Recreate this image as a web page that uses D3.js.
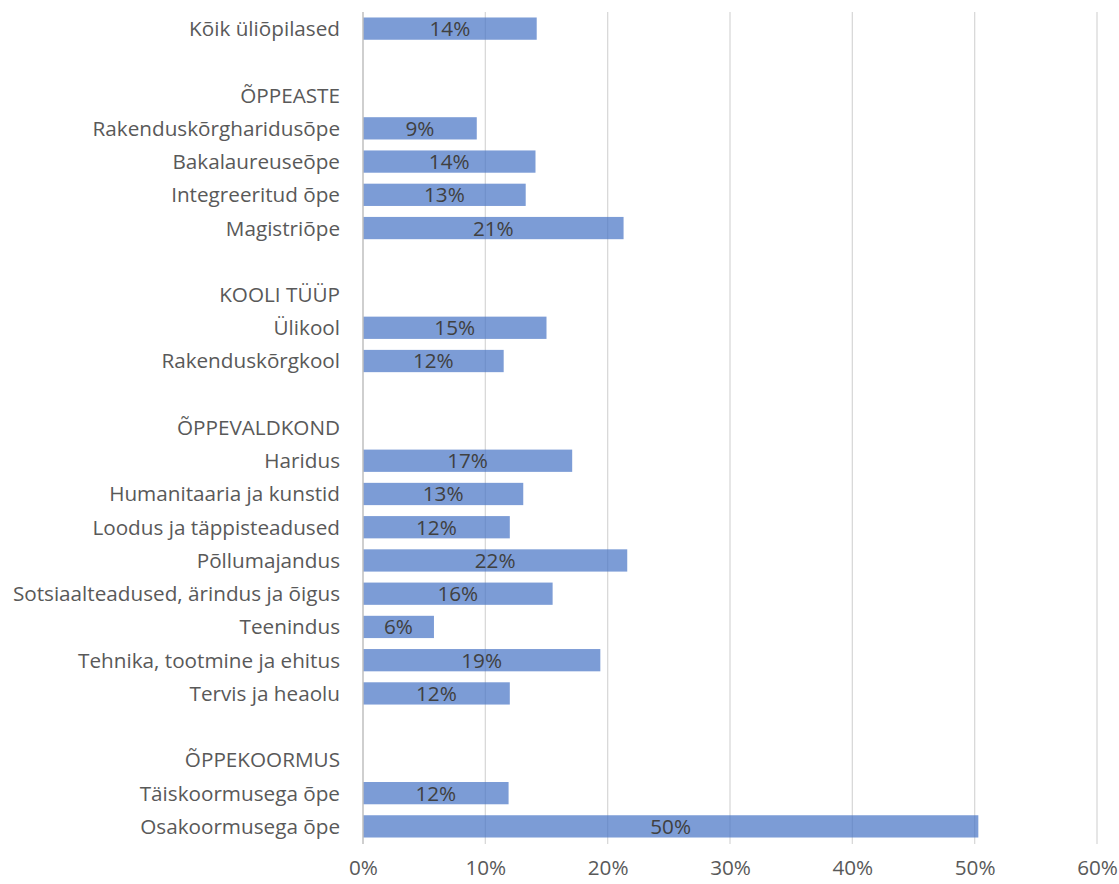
<!DOCTYPE html>
<html>
<head>
<meta charset="utf-8">
<script src="https://cdn.jsdelivr.net/npm/d3@7"></script>
<style>
  body { margin: 0; background: #fff; }
  svg text { font-family: "Open Sans", "Liberation Sans", sans-serif; }
</style>
</head>
<body>
<div id="chart"></div>
<script>
// rows top to bottom; null value = group header or spacer
var categories = [
    "Kõik üliõpilased", "", "ÕPPEASTE",
    "Rakenduskõrgharidusõpe", "Bakalaureuseõpe", "Integreeritud õpe", "Magistriõpe",
    " ", "KOOLI TÜÜP", "Ülikool", "Rakenduskõrgkool",
    "  ", "ÕPPEVALDKOND", "Haridus", "Humanitaaria ja kunstid", "Loodus ja täppisteadused",
    "Põllumajandus", "Sotsiaalteadused, ärindus ja õigus", "Teenindus",
    "Tehnika, tootmine ja ehitus", "Tervis ja heaolu",
    "   ", "ÕPPEKOORMUS", "Täiskoormusega õpe", "Osakoormusega õpe"
];
var values = [
    14.2, null, null,
    9.3, 14.1, 13.3, 21.3,
    null, null, 15.0, 11.5,
    null, null, 17.1, 13.1, 12.0,
    21.6, 15.5, 5.8,
    19.4, 12.0,
    null, null, 11.9, 50.3
];
var tickValues = [0, 10, 20, 30, 40, 50, 60];

var svgWidth = 1119;
var svgHeight = 884;
var margin = { top: 12, right: 22, bottom: 40, left: 363 };
var fontSize = 20.7;

var svg = d3.select("#chart").append("svg")
    .attr("width", svgWidth)
    .attr("height", svgHeight);

var chartGroup = svg.append("g")
    .attr("transform", `translate(${margin.left}, ${margin.top})`);

var rows = categories.map(function (c, i) { return { label: c, value: values[i] }; });

var xScale = d3.scaleLinear().domain([0, 60]).range([0, 734]);
var yScale = d3.scaleBand()
    .domain(categories)
    .range([0, 831])
    .paddingInner(0.33)
    .paddingOuter(0.165);

// gridlines
chartGroup.selectAll(".grid").data(tickValues.slice(1)).enter()
    .append("line")
    .attr("x1", d => xScale(d)).attr("x2", d => xScale(d))
    .attr("y1", 0).attr("y2", 832)
    .attr("stroke", "#d9d9d9").attr("stroke-width", 1.3);

// bars
var barRows = rows.filter(d => d.value !== null);
chartGroup.selectAll(".bar").data(barRows).enter()
    .append("rect")
    .attr("x", 0)
    .attr("y", d => yScale(d.label))
    .attr("width", d => xScale(d.value))
    .attr("height", yScale.bandwidth())
    .attr("fill", "#4472c4")
    .attr("fill-opacity", 0.7);

// value labels
chartGroup.selectAll(".val").data(barRows).enter()
    .append("text")
    .attr("x", d => xScale(d.value) / 2)
    .attr("y", d => yScale(d.label) + yScale.bandwidth() / 2)
    .attr("dy", "0.36em")
    .attr("text-anchor", "middle")
    .attr("font-size", fontSize)
    .attr("fill", "#404040")
    .text(d => Math.round(d.value) + "%");

// zero axis line
chartGroup.append("line")
    .attr("x1", 0).attr("x2", 0).attr("y1", 0).attr("y2", 832)
    .attr("stroke", "#bfbfbf").attr("stroke-width", 1.5);

// category labels
chartGroup.selectAll(".cat").data(rows.filter(d => d.label.trim() !== "")).enter()
    .append("text")
    .attr("x", -23)
    .attr("y", d => yScale(d.label) + yScale.bandwidth() / 2)
    .attr("dy", "0.36em")
    .attr("text-anchor", "end")
    .attr("font-size", fontSize)
    .attr("fill", "#595959")
    .text(d => d.label);

// x axis
var xAxis = d3.axisBottom(xScale)
    .tickValues(tickValues)
    .tickFormat(d => d + "%")
    .tickSize(0)
    .tickPadding(16);

var axisG = chartGroup.append("g")
    .attr("transform", `translate(0, 832)`)
    .call(xAxis);
axisG.select(".domain").remove();
axisG.selectAll("text")
    .attr("font-size", fontSize)
    .attr("fill", "#595959")
    .style("font-family", "'Open Sans', 'Liberation Sans', sans-serif");
</script>
</body>
</html>
